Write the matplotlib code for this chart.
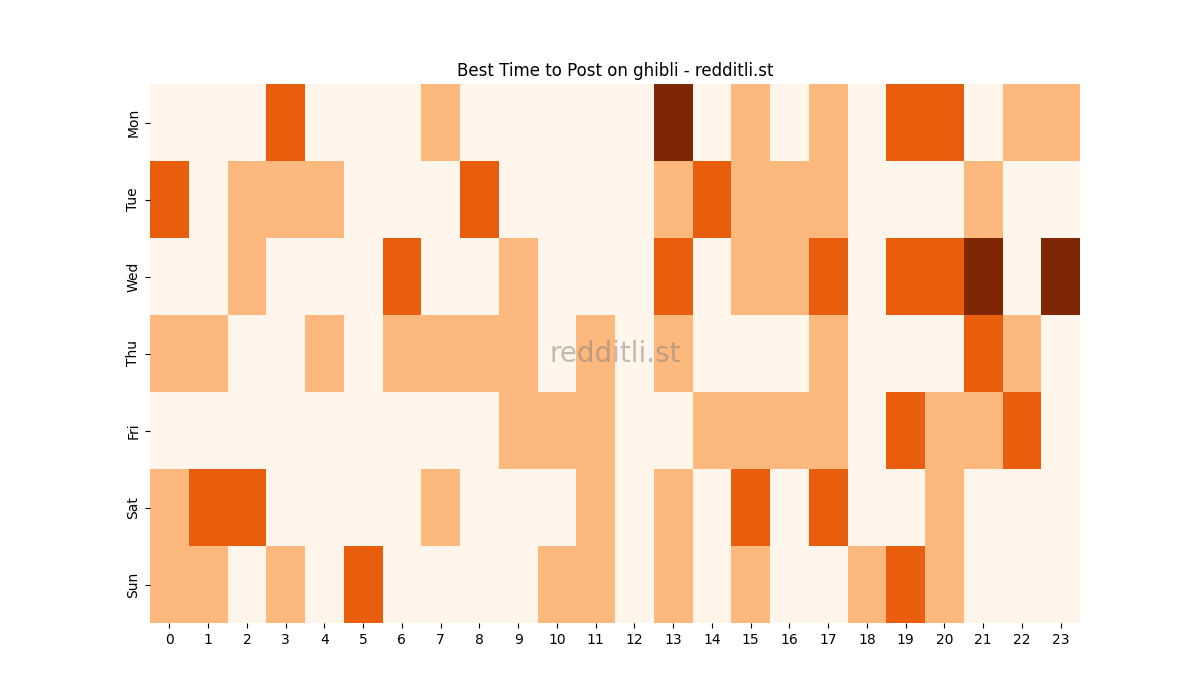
import matplotlib
matplotlib.use("Agg")
import matplotlib.pyplot as plt
import seaborn as sns
import numpy as np

days = ["Mon", "Tue", "Wed", "Thu", "Fri", "Sat", "Sun"]
hours = list(range(24))
mon = [0,0,0,2,0,0,0,1,0,0,0,0,0,3,0,1,0,1,0,2,2,0,1,1]
tue = [2,0,1,1,1,0,0,0,2,0,0,0,0,1,2,1,1,1,0,0,0,1,0,0]
wed = [0,0,1,0,0,0,2,0,0,1,0,0,0,2,0,1,1,2,0,2,2,3,0,3]
thu = [1,1,0,0,1,0,1,1,1,1,0,1,0,1,0,0,0,1,0,0,0,2,1,0]
fri = [0,0,0,0,0,0,0,0,0,1,1,1,0,0,1,1,1,1,0,2,1,1,2,0]
sat = [1,2,2,0,0,0,0,1,0,0,0,1,0,1,0,2,0,2,0,0,1,0,0,0]
sun = [1,1,0,1,0,2,0,0,0,0,1,1,0,1,0,1,0,0,1,2,1,0,0,0]
data = np.array([mon, tue, wed, thu, fri, sat, sun])

fig, ax = plt.subplots(figsize=(12, 7), dpi=100)
sns.heatmap(data, cmap="Oranges", vmin=0, vmax=3, cbar=False, ax=ax,
            xticklabels=hours, yticklabels=days)
ax.set_title("Best Time to Post on ghibli - redditli.st")
ax.text(0.5, 0.5, "redditli.st", transform=ax.transAxes, ha="center", va="center",
        fontsize=20, color="gray", alpha=0.5)
plt.setp(ax.get_yticklabels(), rotation=90, va="center")
plt.setp(ax.get_xticklabels(), rotation=0)
fig.savefig("out.png")
